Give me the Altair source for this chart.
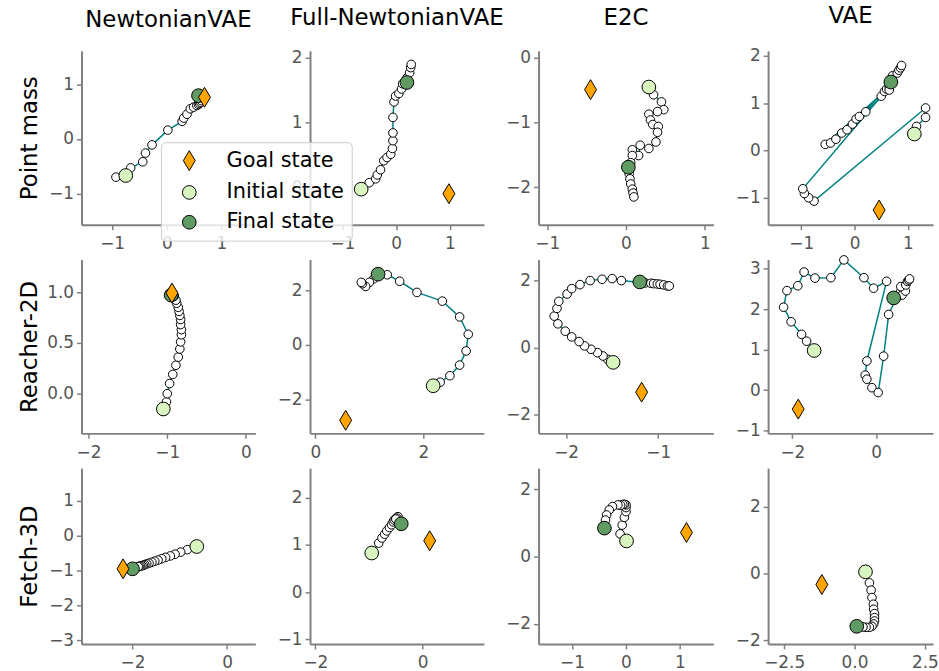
import altair as alt
import pandas as pd

KINDS = ["Goal state", "Initial state", "Final state"]
KIND_COLORS = ["#ffa500", "#d9f5bf", "#5f9b62"]
KIND_SHAPES = ["M0,-1L0.6,0L0,1L-0.6,0Z", "circle", "circle"]
KIND_SIZES = [400, 190, 190]

COLS = ["NewtonianVAE", "Full-NewtonianVAE", "E2C", "VAE"]
ROWS = ["Point mass", "Reacher-2D", "Fetch-3D"]

# ---------------- Point mass ----------------
pm_nvae_x = [-0.93, -0.66, -0.44, -0.39, -0.27, 0.02, 0.28, 0.31, 0.37, 0.43, 0.49, 0.55, 0.58, 0.60, 0.62, 0.63]
pm_nvae_y = [-0.70, -0.53, -0.42, -0.26, -0.11, 0.16, 0.32, 0.38, 0.45, 0.55, 0.58, 0.61, 0.63, 0.65, 0.67, 0.70]
pm_nvae_init, pm_nvae_final, pm_nvae_goal = [-0.75, -0.67], [0.58, 0.79], [0.69, 0.76]

pm_full_x = [-0.50, -0.38, -0.35, -0.29, -0.23, -0.17, -0.10, -0.07, -0.06, -0.06, -0.06, -0.04, -0.01, 0.05, 0.10, 0.12, 0.20, 0.25, 0.27, 0.28]
pm_full_y = [0.07, 0.13, 0.19, 0.27, 0.41, 0.46, 0.51, 0.60, 0.72, 0.84, 1.08, 1.32, 1.41, 1.45, 1.52, 1.60, 1.69, 1.77, 1.85, 1.90]
pm_full_init, pm_full_final, pm_full_goal = [-0.65, -0.03], [0.20, 1.62], [0.98, -0.10]

pm_e2c_x = [0.35, 0.45, 0.48, 0.40, 0.29, 0.31, 0.34, 0.41, 0.40, 0.38, 0.29, 0.18, 0.16, 0.08, 0.08, 0.06, 0.04, 0.05, 0.06, 0.08, 0.09, 0.10]
pm_e2c_y = [-0.57, -0.68, -0.80, -0.83, -0.87, -0.96, -1.03, -1.06, -1.15, -1.30, -1.40, -1.35, -1.51, -1.42, -1.51, -1.62, -1.79, -1.87, -1.95, -2.03, -2.09, -2.15]
pm_e2c_init, pm_e2c_final, pm_e2c_goal = [0.29, -0.45], [0.03, -1.69], [-0.45, -0.49]

pm_vae_x = [1.16, 1.33, 1.33, -0.76, -0.86, -0.94, -0.97, 0.50, 0.56, -0.55, -0.45, -0.35, -0.24, -0.14, -0.04, 0.60, 0.03, 0.65, 0.09, 0.21, 0.65, 0.71, 0.71, 0.80, 0.83, 0.86, 0.88]
pm_vae_y = [0.51, 0.70, 0.90, -1.07, -1.00, -0.91, -0.81, 1.15, 1.25, 0.13, 0.16, 0.24, 0.37, 0.44, 0.56, 1.30, 0.67, 1.35, 0.72, 0.82, 1.28, 1.45, 1.58, 1.64, 1.70, 1.75, 1.80]
pm_vae_init, pm_vae_final, pm_vae_goal = [1.12, 0.35], [0.68, 1.45], [0.46, -1.26]

# ---------------- Reacher-2D ----------------
re_nvae_x = [-1.01, -1.00, -0.97, -0.93, -0.89, -0.86, -0.84, -0.83, -0.82, -0.82, -0.83, -0.83, -0.84, -0.85, -0.86, -0.88, -0.89, -0.91]
re_nvae_y = [-0.08, 0.00, 0.10, 0.19, 0.28, 0.36, 0.44, 0.51, 0.58, 0.63, 0.68, 0.73, 0.77, 0.81, 0.85, 0.89, 0.92, 0.96]
re_nvae_init, re_nvae_final, re_nvae_goal = [-1.05, -0.15], [-0.95, 0.97], [-0.94, 0.99]

re_full_x = [2.31, 2.49, 2.67, 2.79, 2.83, 2.67, 2.35, 1.88, 1.56, 1.33, 1.14, 1.08, 1.00, 0.93, 0.87, 0.85]
re_full_y = [-1.37, -1.13, -0.74, -0.22, 0.39, 1.03, 1.61, 1.93, 2.34, 2.58, 2.60, 2.43, 2.30, 2.15, 2.25, 2.30]
re_full_init, re_full_final, re_full_goal = [2.18, -1.50], [1.16, 2.60], [0.56, -2.77]

re_e2c_x = [-1.55, -1.60, -1.66, -1.73, -1.80, -1.86, -1.94, -2.01, -2.09, -2.13, -2.10, -2.08, -1.99, -1.94, -1.85, -1.74, -1.61, -1.50, -1.40, -1.14, -1.08, -1.05, -1.01, -0.98, -0.94, -0.90, -0.88]
re_e2c_y = [-0.35, -0.25, -0.15, -0.05, 0.05, 0.18, 0.32, 0.49, 0.71, 0.94, 1.17, 1.38, 1.60, 1.76, 1.88, 2.00, 2.04, 2.06, 2.00, 1.93, 1.92, 1.91, 1.90, 1.89, 1.87, 1.84, 1.84]
re_e2c_init, re_e2c_final, re_e2c_goal = [-1.49, -0.44], [-1.20, 1.96], [-1.18, -1.33]

re_vae_x = [-1.66, -1.78, -2.03, -2.21, -2.13, -1.87, -1.72, -1.46, -1.08, -0.77, -0.29, -0.06, 0.25, -0.22, -0.26, -0.22, -0.10, 0.05, 0.18, 0.30, 0.49, 0.59, 0.62, 0.70, 0.59, 0.71, 0.75, 0.78, 0.80]
re_vae_y = [1.21, 1.38, 1.69, 2.05, 2.46, 2.58, 2.92, 2.77, 2.78, 3.22, 2.78, 2.52, 2.69, 0.72, 0.37, 0.27, 0.06, -0.06, 0.84, 1.87, 2.30, 2.44, 2.35, 2.45, 2.56, 2.60, 2.69, 2.72, 2.75]
re_vae_init, re_vae_final, re_vae_goal = [-1.48, 0.98], [0.42, 2.28], [-1.86, -0.47]

# ---------------- Fetch-3D ----------------
fe_nvae_x = [-0.84, -0.98, -1.10, -1.20, -1.30, -1.38, -1.46, -1.53, -1.59, -1.65, -1.70, -1.74, -1.77, -1.80, -1.83, -1.86, -1.88]
fe_nvae_y = [-0.40, -0.47, -0.53, -0.58, -0.62, -0.66, -0.70, -0.73, -0.76, -0.79, -0.81, -0.83, -0.85, -0.86, -0.87, -0.88, -0.89]
fe_nvae_init, fe_nvae_final, fe_nvae_goal = [-0.64, -0.31], [-2.00, -0.95], [-2.20, -0.95]

fe_full_x = [-0.82, -0.76, -0.71, -0.67, -0.62, -0.58, -0.55, -0.53, -0.50, -0.48, -0.47, -0.46, -0.48, -0.50]
fe_full_y = [1.04, 1.15, 1.23, 1.30, 1.37, 1.43, 1.49, 1.53, 1.56, 1.58, 1.59, 1.60, 1.57, 1.55]
fe_full_init, fe_full_final, fe_full_goal = [-0.95, 0.83], [-0.40, 1.45], [0.13, 1.09]

fe_e2c_x = [-0.11, -0.07, -0.03, 0.00, 0.00, 0.00, -0.03, -0.06, -0.10, -0.15, -0.25, -0.31, -0.36, -0.38]
fe_e2c_y = [0.67, 0.93, 1.16, 1.33, 1.45, 1.53, 1.55, 1.54, 1.52, 1.53, 1.48, 1.38, 1.23, 1.08]
fe_e2c_init, fe_e2c_final, fe_e2c_goal = [0.01, 0.46], [-0.40, 0.84], [1.12, 0.71]

fe_vae_x = [0.53, 0.59, 0.62, 0.67, 0.68, 0.71, 0.71, 0.71, 0.68, 0.62, 0.53, 0.41, 0.30]
fe_vae_y = [-0.28, -0.50, -0.72, -0.92, -1.07, -1.20, -1.32, -1.42, -1.51, -1.58, -1.61, -1.61, -1.60]
fe_vae_init, fe_vae_final, fe_vae_goal = [0.39, 0.05], [0.08, -1.58], [-1.16, -0.33]

# axis ranges and tick values per panel (row-major)
X_DOMAINS = [[-1.56, 1.62], [-1.60, 1.63], [-1.11, 1.11], [-1.62, 1.47],
             [-2.09, 0.12], [-0.10, 3.12], [-2.30, -0.40], [-2.58, 1.36],
             [-3.08, 0.60], [-2.10, 1.14], [-1.62, 1.62], [-3.07, 2.79]]
Y_DOMAINS = [[-1.57, 1.61], [-0.58, 2.11], [-2.58, 0.11], [-1.57, 2.11],
             [-0.39, 1.32], [-3.25, 3.14], [-2.56, 2.63], [-1.07, 3.23],
             [-3.11, 1.94], [-1.10, 2.63], [-2.60, 2.62], [-2.11, 3.15]]
X_TICKS = [[-1, 0, 1], [-1, 0, 1], [-1, 0, 1], [-1, 0, 1],
           [-2, -1, 0], [0, 2], [-2, -1], [-2, 0],
           [-2, 0], [-2, 0], [-1, 0, 1], [-2.5, 0, 2.5]]
Y_TICKS = [[-1, 0, 1], [0, 1, 2], [-2, -1, 0], [-1, 0, 1, 2],
           [0, 0.5, 1.0], [-2, 0, 2], [-2, 0, 2], [-1, 0, 1, 2, 3],
           [-3, -2, -1, 0, 1], [-1, 0, 1, 2], [-2, 0, 2], [-2, 0, 2]]
X_FMT = ["d"] * 11 + [".1f"]
Y_FMT = ["d"] * 4 + [".1f"] + ["d"] * 7

PANEL_DATA = [
    (pm_nvae_x, pm_nvae_y, pm_nvae_init, pm_nvae_final, pm_nvae_goal),
    (pm_full_x, pm_full_y, pm_full_init, pm_full_final, pm_full_goal),
    (pm_e2c_x, pm_e2c_y, pm_e2c_init, pm_e2c_final, pm_e2c_goal),
    (pm_vae_x, pm_vae_y, pm_vae_init, pm_vae_final, pm_vae_goal),
    (re_nvae_x, re_nvae_y, re_nvae_init, re_nvae_final, re_nvae_goal),
    (re_full_x, re_full_y, re_full_init, re_full_final, re_full_goal),
    (re_e2c_x, re_e2c_y, re_e2c_init, re_e2c_final, re_e2c_goal),
    (re_vae_x, re_vae_y, re_vae_init, re_vae_final, re_vae_goal),
    (fe_nvae_x, fe_nvae_y, fe_nvae_init, fe_nvae_final, fe_nvae_goal),
    (fe_full_x, fe_full_y, fe_full_init, fe_full_final, fe_full_goal),
    (fe_e2c_x, fe_e2c_y, fe_e2c_init, fe_e2c_final, fe_e2c_goal),
    (fe_vae_x, fe_vae_y, fe_vae_init, fe_vae_final, fe_vae_goal),
]

COL_WIDTHS = [175, 175, 176, 166]
ROW_HEIGHTS = [175, 175, 177]
FONT = "DejaVu Sans"

legend = alt.Legend(
    title=None, orient="none", legendX=80, legendY=92,
    fillColor="rgba(255,255,255,0.8)", strokeColor="#cccccc", cornerRadius=4,
    padding=8, symbolOffset=10, labelOffset=27, rowPadding=8,
    labelFont=FONT, labelFontSize=21, labelColor="black",
    symbolStrokeColor="black", symbolStrokeWidth=1,
)


def make_panel(idx):
    r, c = divmod(idx, 4)
    tx, ty, init, final, goal = PANEL_DATA[idx]
    line_df = pd.DataFrame({"x": [init[0]] + list(tx), "y": [init[1]] + list(ty)})
    line_df["i"] = range(len(line_df))
    pts_df = pd.DataFrame({"x": tx, "y": ty})
    sp_df = pd.DataFrame({
        "x": [init[0], final[0], goal[0]],
        "y": [init[1], final[1], goal[1]],
        "kind": ["Initial state", "Final state", "Goal state"],
    })
    y_axis_kw = dict(values=Y_TICKS[idx], format=Y_FMT[idx])
    if c == 0:
        y_axis_kw.update(title=ROWS[r], titleFont=FONT, titleFontSize=23,
                         titleFontWeight="normal", titleColor="black",
                         titleX=-52, titleY=ROW_HEIGHTS[r] / 2, titleAngle=270,
                         titleAlign="center", titleBaseline="middle")
    else:
        y_axis_kw.update(title=None)
    X = alt.X("x:Q", scale=alt.Scale(domain=X_DOMAINS[idx], nice=False, zero=False),
              axis=alt.Axis(values=X_TICKS[idx], format=X_FMT[idx], title=None))
    Y = alt.Y("y:Q", scale=alt.Scale(domain=Y_DOMAINS[idx], nice=False, zero=False),
              axis=alt.Axis(**y_axis_kw))
    line = alt.Chart(line_df).mark_line(color="#008080", strokeWidth=1.5).encode(
        x=X, y=Y, order="i:Q")
    pts = alt.Chart(pts_df).mark_point(shape="circle", filled=True, fill="white",
                                       stroke="black", strokeWidth=1, size=75,
                                       opacity=1).encode(x=X, y=Y)
    sp = alt.Chart(sp_df).mark_point(filled=True, stroke="black", strokeWidth=1,
                                     opacity=1).encode(
        x=X, y=Y,
        color=alt.Color("kind:N", scale=alt.Scale(domain=KINDS, range=KIND_COLORS), legend=legend),
        shape=alt.Shape("kind:N", scale=alt.Scale(domain=KINDS, range=KIND_SHAPES), legend=legend),
        size=alt.Size("kind:N", scale=alt.Scale(type="ordinal", domain=KINDS, range=KIND_SIZES), legend=legend),
    )
    props = dict(width=COL_WIDTHS[c], height=ROW_HEIGHTS[r])
    if r == 0:
        props["title"] = alt.TitleParams(COLS[c], font=FONT, fontSize=23, fontWeight="normal",
                                         color="black", anchor="middle", offset=19)
    return alt.layer(line, pts, sp).properties(**props)


panels = [make_panel(i) for i in range(12)]

chart = alt.ConcatChart(
    concat=panels, columns=4,
    spacing=alt.RowColnumber(row=35, column=55),
    bounds="flush",
).properties(
    padding={"left": 18, "top": 2, "right": 0, "bottom": 0},
).configure_axis(
    domainColor="#808080", domainWidth=2, tickColor="#808080", tickWidth=1.5,
    tickSize=5, labelColor="#555555", labelFont=FONT, labelFontSize=17, grid=False,
).configure_axisX(labelPadding=6).configure_axisY(labelPadding=3).configure_view(
    stroke="transparent"
)

chart.save("out.html", embed_options={"renderer": "svg", "actions": False})
